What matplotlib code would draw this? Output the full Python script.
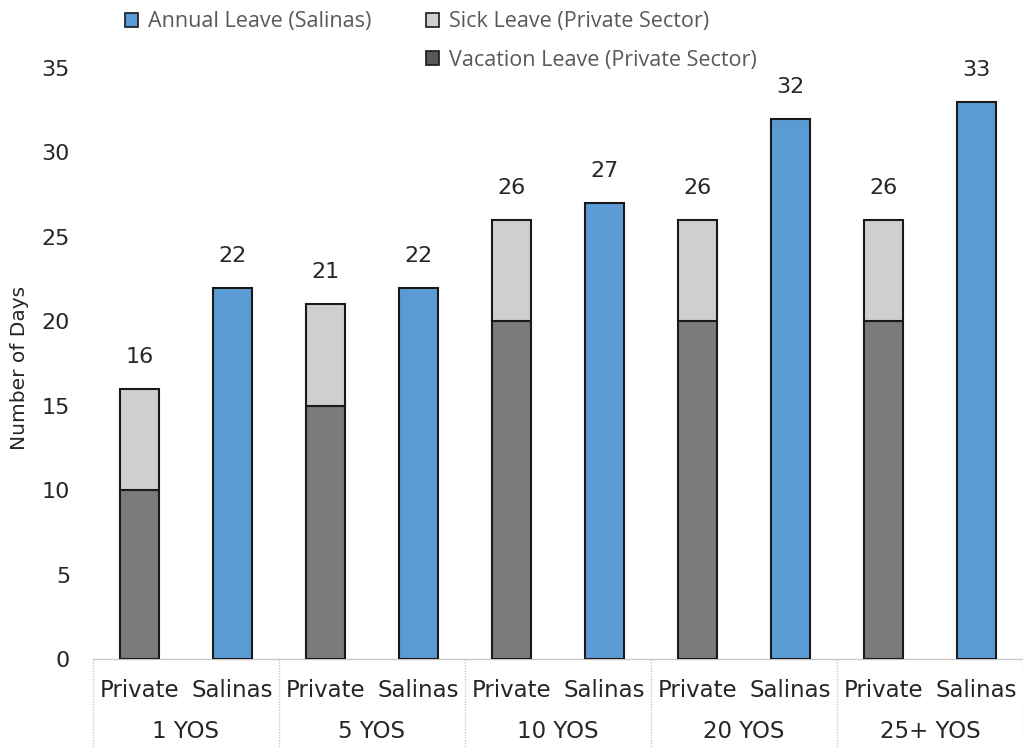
import matplotlib
matplotlib.use("Agg")
import matplotlib.pyplot as plt
from matplotlib.patches import Patch
from matplotlib.lines import Line2D
import numpy as np

groups = ["1 YOS", "5 YOS", "10 YOS", "20 YOS", "25+ YOS"]
sub_labels = ["Private", "Salinas"]
vacation_private = [10, 15, 20, 20, 20]
sick_private = [6, 6, 6, 6, 6]
annual_salinas = [22, 22, 27, 32, 33]
yticks = [0, 5, 10, 15, 20, 25, 30, 35]

BLUE = "#5b9bd5"
LIGHT = "#d0cece"
DARK = "#7b7b7b"
EDGE = "#1a1a1a"
TEXT = "#262626"

plt.rcParams["font.family"] = ["DejaVu Sans"]

fig = plt.figure(figsize=(10.23, 7.48), dpi=100)
W, H = 1023, 748
x0, x1 = 93, 1023
y0, y1 = 659, 68
ax = fig.add_axes([x0 / W, 1 - y0 / H, (x1 - x0) / W, (y0 - y1) / H])

n = len(groups)
priv_x = np.arange(n) * 2 + 0.5
sal_x = np.arange(n) * 2 + 1.5
bw = 0.41

ax.bar(priv_x, vacation_private, bw, color=DARK, edgecolor=EDGE, linewidth=1.5, zorder=3)
ax.bar(priv_x, sick_private, bw, bottom=vacation_private, color=LIGHT, edgecolor=EDGE,
       linewidth=1.5, zorder=3)
ax.bar(sal_x, annual_salinas, bw, color=BLUE, edgecolor=EDGE, linewidth=1.5, zorder=3)

totals = [v + s for v, s in zip(vacation_private, sick_private)]
for x, t in zip(priv_x, totals):
    ax.annotate(f"{t}", (x, t), xytext=(0, 23), textcoords="offset points",
                ha="center", va="center", fontsize=16, color=TEXT)
for x, t in zip(sal_x, annual_salinas):
    ax.annotate(f"{t}", (x, t), xytext=(0, 23), textcoords="offset points",
                ha="center", va="center", fontsize=16, color=TEXT)

ax.set_xlim(0, 2 * n)
ax.set_ylim(0, 35)
ax.set_yticks(yticks)
ax.tick_params(axis="y", length=0, labelsize=16, labelcolor=TEXT, pad=16.5)
ax.set_xticks([])
for s in ["left", "right", "top"]:
    ax.spines[s].set_visible(False)
ax.spines["bottom"].set_color("#c8c8c8")
ax.spines["bottom"].set_linestyle((0, (1, 1)))
ax.spines["bottom"].set_linewidth(1)

fig.text(20 / W, 1 - 368 / H, "Number of Days", rotation=90, ha="center", va="center",
         fontsize=14.5, color=TEXT)

# two-level category axis below the plot
tr = ax.get_xaxis_transform()
for x in priv_x:
    ax.text(x, -0.054, sub_labels[0], transform=tr, ha="center", va="center",
            fontsize=16.5, color=TEXT)
for x in sal_x:
    ax.text(x, -0.054, sub_labels[1], transform=tr, ha="center", va="center",
            fontsize=16.5, color=TEXT)
for i, g in enumerate(groups):
    ax.text(2 * i + 1, -0.122, g, transform=tr, ha="center", va="center",
            fontsize=16.5, color=TEXT)
for i in range(n + 1):
    ax.add_line(Line2D([2 * i, 2 * i], [0, -0.16], transform=tr, color="#c8c8c8",
                       linestyle=(0, (1, 1)), linewidth=1, clip_on=False))

handles = [
    Patch(facecolor=BLUE, edgecolor=EDGE, linewidth=1.2),
    Patch(visible=False),
    Patch(facecolor=LIGHT, edgecolor=EDGE, linewidth=1.2),
    Patch(facecolor="#595959", edgecolor=EDGE, linewidth=1.2),
]
labels = ["Annual Leave (Salinas)", "", "Sick Leave (Private Sector)",
          "Vacation Leave (Private Sector)"]
fig.legend(handles, labels, ncol=2, loc="upper left",
           bbox_to_anchor=(106 / W, 1 + 8 / H), frameon=False,
           prop={"family": ["Open Sans", "DejaVu Sans"], "size": 15.5},
           labelcolor="#595959", handlelength=0.6, handleheight=0.6,
           handletextpad=0.45, columnspacing=2.55, labelspacing=0.8)

fig.savefig("out.png", dpi=100)
